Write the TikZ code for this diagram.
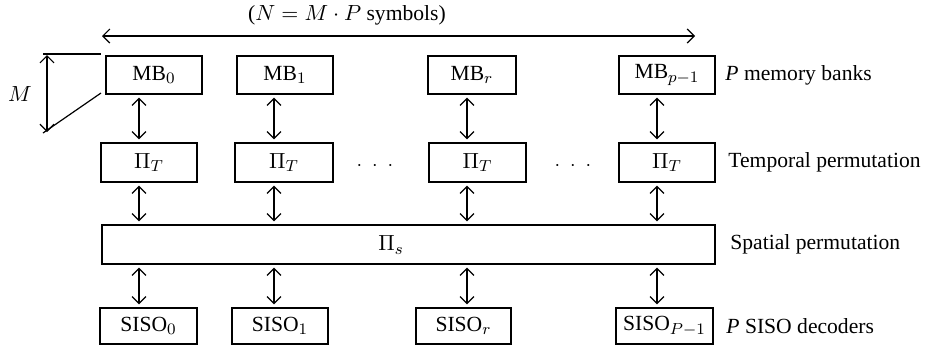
\documentclass[tikz,border=0pt]{standalone}
\usepackage{fontspec}
\setmainfont{Liberation Serif}
\usetikzlibrary{arrows.meta}
\tikzset{
  blk/.style={draw, line width=0.6pt, inner sep=0pt, font=\fontsize{10.8}{13}\selectfont},
  lbl/.style={anchor=west, inner sep=0pt, font=\fontsize{10.8}{13}\selectfont},
  dbl/.style={line width=0.6pt, {Straight Barb[length=3.5pt,width=7pt]}-{Straight Barb[length=3.5pt,width=7pt]}, shorten <=1.5pt, shorten >=1.5pt},
  thin line/.style={line width=0.6pt}
}
\begin{document}
\begin{tikzpicture}[x=0.5pt,y=-0.5pt]
\useasboundingbox (0,0) rectangle (930,349);
% memory banks
\node[blk, minimum width=48pt, minimum height=19pt] (MB0) at (154,75) {MB$_0$};
\node[blk, minimum width=48pt, minimum height=19pt] (MB1) at (285,75) {MB$_1$};
\node[blk, minimum width=44pt, minimum height=19pt] (MBr) at (472,75) {MB$_r$};
\node[blk, minimum width=48pt, minimum height=19pt] (MBp) at (667,75) {MB$_{p-1}$};
% temporal permutations
\node[blk, minimum width=48pt, minimum height=19.5pt] (PT0) at (149,162.5) {$\Pi_T$};
\node[blk, minimum width=49pt, minimum height=19.5pt] (PT1) at (284,162.5) {$\Pi_T$};
\node[blk, minimum width=48.5pt, minimum height=19.5pt] (PTr) at (477.5,162.5) {$\Pi_T$};
\node[blk, minimum width=48pt, minimum height=19.5pt] (PTp) at (667,162.5) {$\Pi_T$};
\node[inner sep=0pt] (d1) at (375,166) {$\cdot\;\cdot\;\cdot$};
\node[inner sep=0pt] (d2) at (573,166) {$\cdot\;\cdot\;\cdot$};
% spatial permutation
\node[blk, minimum width=306.5pt, minimum height=19.5pt] (PS) at (408.5,244.5) {};
\node[inner sep=0pt, font=\fontsize{10.8}{13}\selectfont] (PSl) at (391,245) {$\Pi_s$};
% SISO decoders
\node[blk, minimum width=48.5pt, minimum height=18pt] (S0) at (148.5,326) {SISO$_0$};
\node[blk, minimum width=48pt, minimum height=18pt] (S1) at (280,326) {SISO$_1$};
\node[blk, minimum width=47.5pt, minimum height=18pt] (Sr) at (463.5,326) {SISO$_r$};
\node[blk, minimum width=48.5pt, minimum height=18pt] (Sp) at (664.5,326) {SISO$_{P-1}$};
% right labels
\node[lbl] (L1) at (725,75) {\textit{P} memory banks};
\node[lbl] (L2) at (728,162.5) {Temporal permutation};
\node[lbl] (L3) at (730,244.5) {Spatial permutation};
\node[lbl] (L4) at (726,326) {\textit{P} SISO decoders};
% arrow columns
\coordinate (a0) at (139,0);
\coordinate (a1) at (274,0);
\coordinate (ar) at (467,0);
\coordinate (ap) at (657,0);
\foreach \c/\m/\t/\s in {a0/MB0/PT0/S0, a1/MB1/PT1/S1, ar/MBr/PTr/Sr, ap/MBp/PTp/Sp}{
  \draw[dbl] (\m.south -| \c) -- (\t.north -| \c);
  \draw[dbl] (\t.south -| \c) -- (PS.north -| \c);
  \draw[dbl] (PS.south -| \c) -- (\s.north -| \c);
}
% top span arrow
\coordinate (TL) at (102,36);
\coordinate (TR) at (695,36);
\draw[dbl, shorten <=0pt, shorten >=0pt] (TL) -- (TR);
\node[inner sep=0pt, font=\fontsize{10.8}{13}\selectfont] (N) at (347,15) {($N = M\cdot P$ symbols)};
% M dimension
\coordinate (m1) at (43,54);
\coordinate (m2) at (101,54);
\coordinate (v1) at (47,55);
\coordinate (v2) at (47,132);
\coordinate (g1) at (43,133);
\coordinate (g2) at (101,93);
\draw[thin line] (m1) -- (m2);
\draw[dbl, shorten <=0pt, shorten >=0pt] (v1) -- (v2);
\draw[thin line] (g1) -- (g2);
\node[inner sep=0pt, font=\fontsize{10.8}{13}\selectfont] (M) at (20,94) {$M$};
\end{tikzpicture}
\end{document}
